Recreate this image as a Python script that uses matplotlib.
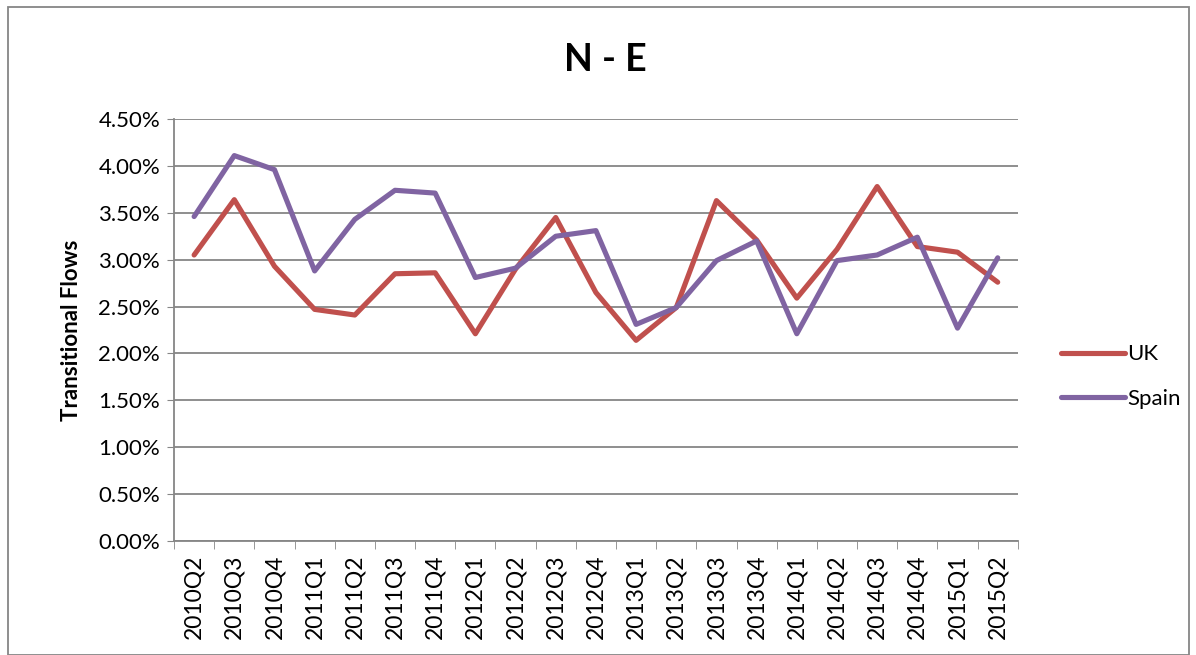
import matplotlib.pyplot as plt
import matplotlib.patches as mpatches
import numpy as np

quarters = ["2010Q2", "2010Q3", "2010Q4", "2011Q1", "2011Q2", "2011Q3", "2011Q4",
            "2012Q1", "2012Q2", "2012Q3", "2012Q4", "2013Q1", "2013Q2", "2013Q3",
            "2013Q4", "2014Q1", "2014Q2", "2014Q3", "2014Q4", "2015Q1", "2015Q2"]
uk = [3.05, 3.64, 2.93, 2.47, 2.41, 2.85, 2.86, 2.21, 2.90, 3.45, 2.65,
      2.14, 2.49, 3.63, 3.21, 2.59, 3.11, 3.78, 3.14, 3.08, 2.76]
spain = [3.46, 4.11, 3.96, 2.88, 3.43, 3.74, 3.71, 2.81, 2.91, 3.25, 3.31,
         2.31, 2.49, 2.99, 3.20, 2.21, 2.99, 3.05, 3.24, 2.27, 3.02]

plt.rcParams['font.family'] = ['Lato', 'DejaVu Sans']

fig = plt.figure(figsize=(11.96, 6.55), dpi=100)
ax = fig.add_axes([0.1455, 0.174, 0.7055, 0.6443])

x = np.arange(len(quarters))
ax.plot(x, uk, color="#C0504D", linewidth=3.7, label="UK", solid_joinstyle="round", solid_capstyle="round")
ax.plot(x, spain, color="#8064A2", linewidth=3.7, label="Spain", solid_joinstyle="round", solid_capstyle="round")

ax.set_xlim(-0.5, len(quarters) - 0.5)
ax.set_ylim(0, 4.5)
yt = np.arange(0, 4.51, 0.5)
ax.set_yticks(yt)
ax.set_yticklabels(["%.2f%%" % v for v in yt], fontsize=16)
ax.set_xticks(x)
ax.set_xticklabels(quarters, rotation=90, fontsize=16.5)
ax.set_xticks(np.arange(-0.5, len(quarters), 1), minor=True)
ax.tick_params(axis='x', which='major', length=0, pad=10)
ax.tick_params(axis='x', which='minor', length=6, color="#868686")
ax.tick_params(axis='y', length=5, color="#868686", pad=5)
ax.yaxis.grid(True, color="#868686", linewidth=1.3)
ax.set_axisbelow(True)
for s in ["top", "right"]:
    ax.spines[s].set_visible(False)
ax.spines["left"].set_color("#868686")
ax.spines["bottom"].set_color("#868686")
ax.spines["left"].set_linewidth(1.3)
ax.spines["bottom"].set_linewidth(1.3)

ax.set_ylabel("Transitional Flows", fontsize=16, fontweight="bold", labelpad=12)
fig.text(0.506, 0.908, "N - E", fontsize=27, fontweight="bold", ha="center", va="center")

fig.legend(loc="center left", bbox_to_anchor=(0.87, 0.425), frameon=False, fontsize=16,
           handlelength=2.9, handletextpad=0.1, labelspacing=1.1)

fig.patches.append(mpatches.Rectangle((8 / 1196, 0.0), 1181 / 1196, 1 - 7 / 655,
                                      transform=fig.transFigure, fill=False,
                                      edgecolor="#868686", linewidth=1.3))

fig.savefig("out.png", dpi=100)
